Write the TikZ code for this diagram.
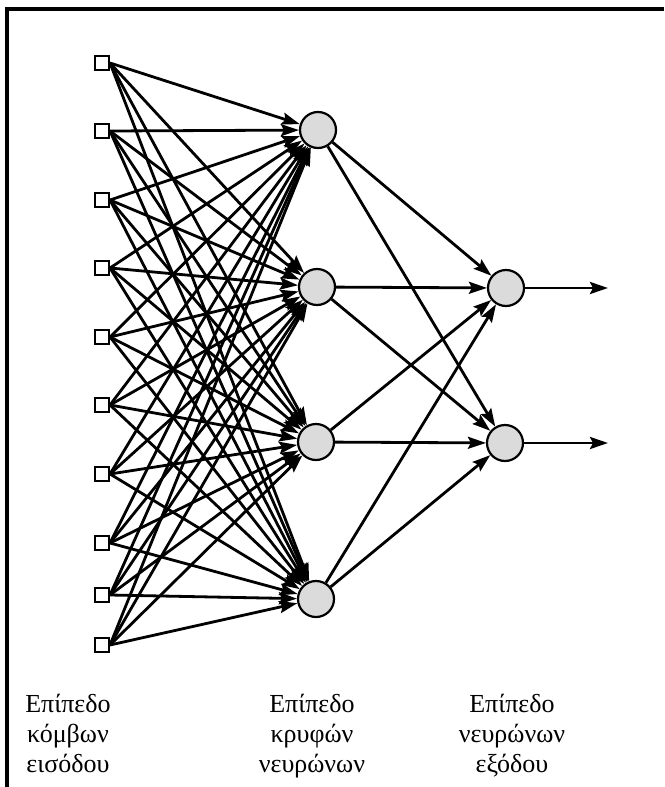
\documentclass[tikz,border=0pt]{standalone}
\usepackage{fontspec}
\setmainfont{Liberation Serif}
\usetikzlibrary{arrows.meta}
\begin{document}
\begin{tikzpicture}[x=1pt,y=-1pt,
  inp/.style={draw,line width=2pt,fill=white,minimum size=14pt,inner sep=0pt},
  neuron/.style={circle,draw,line width=2.2pt,fill=black!14,minimum size=36pt,inner sep=0pt},
  link/.style={line width=2.8pt,-{Stealth[length=18pt,width=12pt,inset=3pt]}},
  lbl/.style={align=center,inner sep=0pt,anchor=north,font=\fontsize{26}{30}\selectfont}]
\useasboundingbox (0,0) rectangle (664,787);

% frame (left and top edges)
\coordinate (fb) at (7,787);
\coordinate (fr) at (664,9);
\draw[line width=3.2pt] (fb) |- (fr);

% input nodes
\foreach \i/\y in {1/63,2/131,3/200,4/268,5/337,6/405,7/474,8/543,9/595,10/645}
  \node[inp] (i\i) at (102,\y) {};

% hidden neurons
\node[neuron] (h1) at (318,130) {};
\node[neuron] (h2) at (317,287) {};
\node[neuron] (h3) at (316,442) {};
\node[neuron] (h4) at (316,599) {};

% output neurons
\node[neuron] (o1) at (506,288) {};
\node[neuron] (o2) at (505,443) {};
\coordinate (e1) at (608,288);
\coordinate (e2) at (608,443);

% input -> hidden
\foreach \i in {1,...,10}
  \foreach \j in {1,...,4}
    \draw[link] (i\i.east) -- (h\j);

% hidden -> output
\foreach \j in {1,...,4}
  \foreach \k in {1,2}
    \draw[link] (h\j) -- (o\k);

% outputs
\draw[link] (o1) -- (e1);
\draw[link] (o2) -- (e2);

% layer captions
\node[lbl] (l1) at (68,694) {Επίπεδο\\κόμβων\\εισόδου};
\node[lbl] (l2) at (312,694) {Επίπεδο\\κρυφών\\νευρώνων};
\node[lbl] (l3) at (512,694) {Επίπεδο\\νευρώνων\\εξόδου};
\end{tikzpicture}
\end{document}
